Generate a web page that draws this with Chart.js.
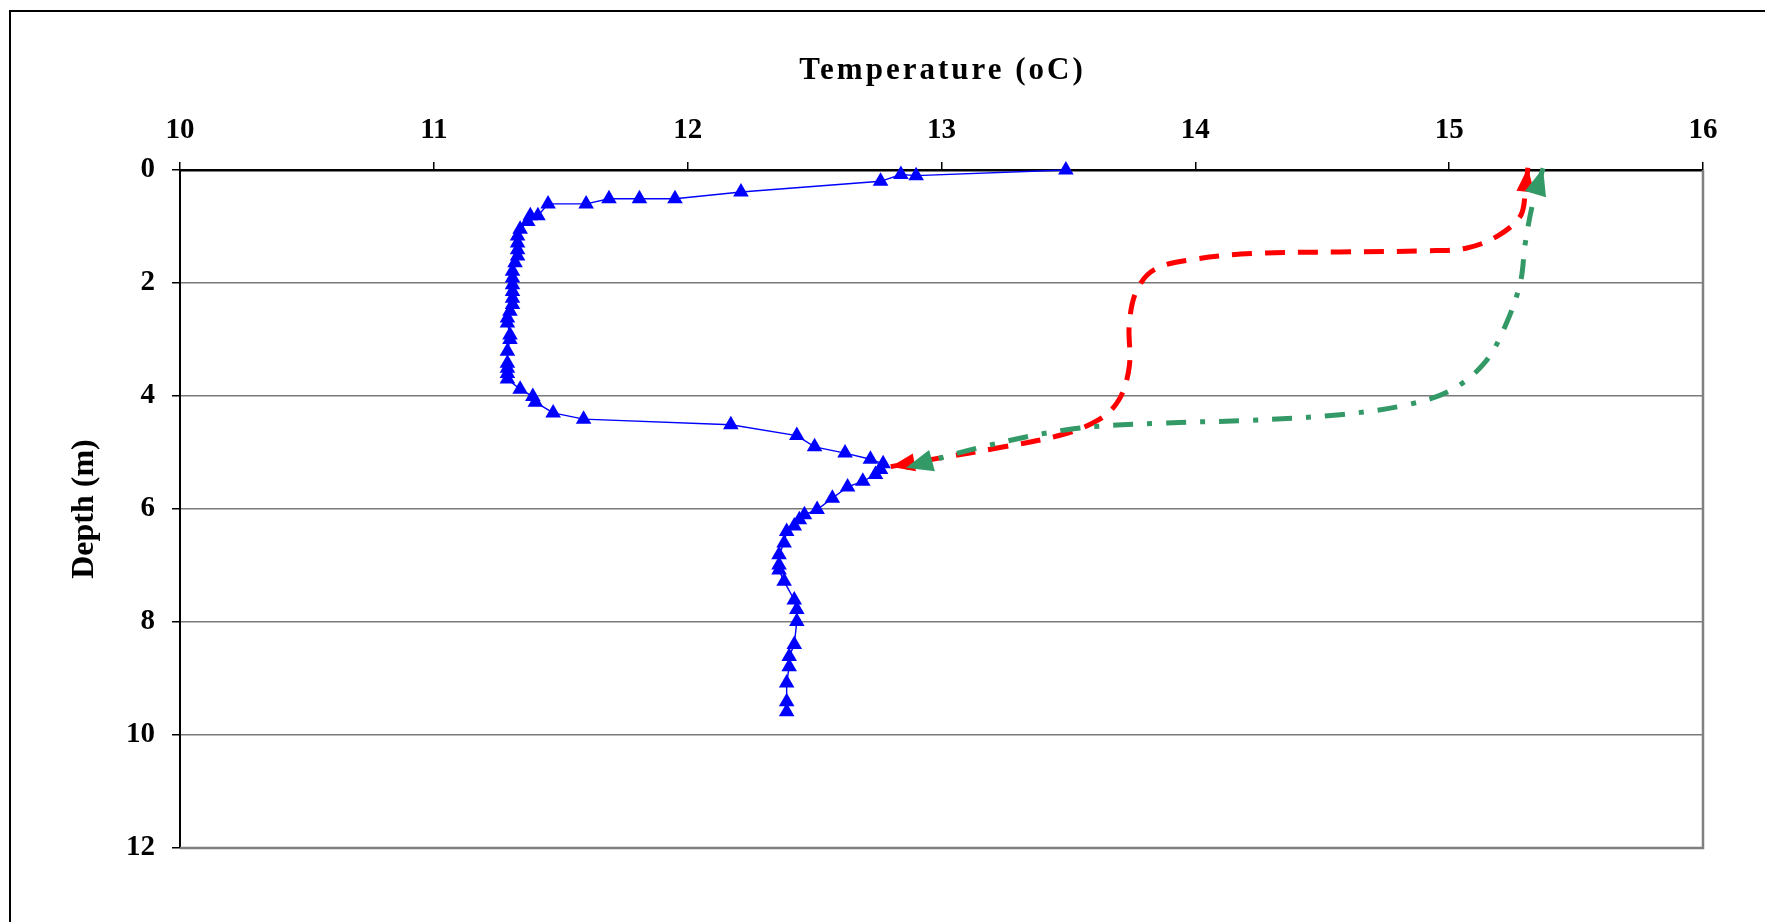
<!DOCTYPE html>
<html>
<head>
<meta charset="utf-8">
<script src="https://cdn.jsdelivr.net/npm/chart.js@4.4.1/dist/chart.umd.min.js"></script>
<style>
  html, body { margin: 0; padding: 0; background: #fff; overflow: hidden; }
  #wrap { position: relative; width: 1765px; height: 922px; }
  #frame {
    position: absolute; left: 9px; top: 10px; width: 1800px; height: 1000px;
    border-left: 2px solid #000; border-top: 2px solid #000; pointer-events: none;
  }
  canvas { position: absolute; left: 0; top: 0; }
</style>
</head>
<body>
<div id="wrap">
  <canvas id="chart" width="1765" height="922"></canvas>
  <div id="frame"></div>
</div>
<script>
// Perfil de temperatura medido
const temperature = [
  13.49, 12.90, 12.84, 12.76, 12.21, 11.95, 11.81, 11.69, 11.60, 11.45,
  11.41, 11.38, 11.37, 11.34, 11.33, 11.33, 11.33, 11.33, 11.32, 11.31,
  11.31, 11.31, 11.31, 11.31, 11.31, 11.30, 11.29, 11.29, 11.30, 11.30,
  11.29, 11.29, 11.29, 11.29, 11.29, 11.34, 11.39, 11.40, 11.47, 11.59,
  12.17, 12.43, 12.50, 12.62, 12.72, 12.77, 12.76, 12.74, 12.69, 12.63,
  12.57, 12.51, 12.46, 12.44, 12.42, 12.39, 12.38, 12.36, 12.36, 12.36,
  12.38, 12.42, 12.43, 12.43, 12.42, 12.40, 12.40, 12.39, 12.39, 12.39
];
const depth = [
  0.00, 0.10, 0.08, 0.20, 0.39, 0.51, 0.51, 0.51, 0.60, 0.60,
  0.81, 0.81, 0.91, 1.05, 1.17, 1.29, 1.41, 1.52, 1.64, 1.79,
  1.91, 2.03, 2.15, 2.27, 2.38, 2.50, 2.62, 2.71, 2.92, 3.00,
  3.21, 3.42, 3.51, 3.60, 3.70, 3.88, 4.01, 4.11, 4.30, 4.41,
  4.51, 4.70, 4.90, 5.01, 5.12, 5.20, 5.30, 5.39, 5.51, 5.61,
  5.81, 6.01, 6.10, 6.19, 6.30, 6.40, 6.60, 6.81, 6.99, 7.08,
  7.28, 7.61, 7.78, 7.99, 8.40, 8.61, 8.79, 9.08, 9.41, 9.59
];

// Flechas (trazos a mano en el original)
const redArrowTemp  = [12.80, 12.99, 13.22, 13.47, 13.62, 13.70, 13.74, 13.74, 13.77, 13.84, 13.98, 14.22, 14.57, 14.92, 15.07, 15.19, 15.28, 15.30, 15.31];
const redArrowDepth = [5.25, 5.10, 4.92, 4.69, 4.42, 4.06, 3.47, 2.71, 2.12, 1.76, 1.59, 1.48, 1.45, 1.43, 1.38, 1.17, 0.82, 0.40, -0.04];
const greenArrowTemp  = [12.86, 13.17, 13.52, 13.87, 14.22, 14.57, 14.84, 15.01, 15.14, 15.22, 15.28, 15.30, 15.33, 15.37];
const greenArrowDepth = [5.27, 4.89, 4.58, 4.48, 4.43, 4.33, 4.15, 3.89, 3.41, 2.77, 2.00, 1.29, 0.58, -0.03];

const xTicks = [10, 11, 12, 13, 14, 15, 16];
const yTicks = [0, 2, 4, 6, 8, 10, 12];
const xTitle = 'Temperature (oC)';
const yTitle = 'Depth (m)';

const FONT = "'Liberation Serif', 'Times New Roman', serif";

const toPoints = (xs, ys) => xs.map((x, i) => ({ x, y: ys[i] }));

// Puntas de flecha en ambos extremos
const arrowHeads = {
    id: 'arrowHeads',
    afterDatasetsDraw(chart) {
        const ctx = chart.ctx;
        [2, 1].forEach((i) => {
            const ds = chart.data.datasets[i];
            if (!ds || !ds.arrow) return;
            const pts = chart.getDatasetMeta(i).data;
            const ends = [[pts[0], pts[1]], [pts[pts.length - 1], pts[pts.length - 2]]];
            ctx.save();
            ctx.fillStyle = ds.borderColor;
            ends.forEach(([tip, prev]) => {
                const ang = Math.atan2(tip.y - prev.y, tip.x - prev.x);
                const { len, half } = ds.arrow;
                ctx.beginPath();
                ctx.moveTo(tip.x, tip.y);
                ctx.lineTo(tip.x - len * Math.cos(ang) + half * Math.sin(ang), tip.y - len * Math.sin(ang) - half * Math.cos(ang));
                ctx.lineTo(tip.x - len * Math.cos(ang) - half * Math.sin(ang), tip.y - len * Math.sin(ang) + half * Math.cos(ang));
                ctx.closePath();
                ctx.fill();
            });
            ctx.restore();
        });
    }
};

// Titulo superior con espaciado entre letras + marco derecho/inferior
const decorations = {
    id: 'decorations',
    beforeDatasetsDraw(chart) {
        const { ctx, chartArea: a } = chart;
        ctx.save();
        ctx.strokeStyle = '#808080';
        ctx.lineWidth = 2.5;
        ctx.beginPath();
        ctx.moveTo(a.right, a.top);
        ctx.lineTo(a.right, a.bottom);
        ctx.lineTo(a.left, a.bottom);
        ctx.stroke();
        ctx.restore();
    },
    afterDraw(chart) {
        const { ctx, chartArea: a } = chart;
        ctx.save();
        ctx.font = `bold 31px ${FONT}`;
        ctx.letterSpacing = '3px';
        ctx.fillStyle = '#000';
        ctx.textAlign = 'center';
        ctx.textBaseline = 'middle';
        ctx.fillText(xTitle, (a.left + a.right) / 2 + 1, 71);
        ctx.restore();
    }
};

new Chart(document.getElementById('chart'), {
    type: 'scatter',
    plugins: [arrowHeads, decorations],
    data: {
        datasets: [
            {
                label: 'Temperature',
                data: toPoints(temperature, depth),
                showLine: true,
                borderColor: '#0000FF',
                backgroundColor: '#0000FF',
                borderWidth: 1.4,
                pointStyle: 'triangle',
                pointRadius: 9,
                pointBorderWidth: 0,
                tension: 0,
                clip: false,
                order: 0
            },
            {
                label: 'green',
                data: toPoints(greenArrowTemp, greenArrowDepth),
                showLine: true,
                borderColor: '#339966',
                borderWidth: 5,
                borderDash: [20, 14, 5, 14],
                pointRadius: 0,
                tension: 0.35,
                clip: false,
                arrow: { len: 27, half: 11 },
                order: 1
            },
            {
                label: 'red',
                data: toPoints(redArrowTemp, redArrowDepth),
                showLine: true,
                borderColor: '#FF0000',
                borderWidth: 5,
                borderDash: [20, 13],
                pointRadius: 0,
                tension: 0.35,
                clip: false,
                arrow: { len: 24, half: 9 },
                order: 2
            }
        ]
    },
    options: {
        responsive: false,
        animation: false,
        events: [],
        layout: { padding: { left: 0, top: 0, right: 62, bottom: 74 } },
        plugins: {
            legend: { display: false },
            tooltip: { enabled: false }
        },
        scales: {
            x: {
                type: 'linear',
                position: 'top',
                min: 10,
                max: 16,
                afterBuildTicks: (s) => { s.ticks = xTicks.map(v => ({ value: v })); },
                afterFit: (s) => { s.height = 170; },
                grid: { drawOnChartArea: false, drawTicks: true, tickLength: 8, tickColor: '#000', lineWidth: 1.5 },
                border: { display: true, color: '#000', width: 2.5 },
                ticks: { color: '#000', padding: 14, font: { family: FONT, size: 29, weight: 'bold' } }
            },
            y: {
                type: 'linear',
                position: 'left',
                reverse: true,
                min: 0,
                max: 12,
                afterBuildTicks: (s) => { s.ticks = yTicks.map(v => ({ value: v })); },
                afterFit: (s) => { s.width = 180; },
                grid: {
                    color: (c) => (c.tick && (c.tick.value === 0 || c.tick.value === 12)) ? 'rgba(0,0,0,0)' : '#7a7a7a',
                    lineWidth: 1.5,
                    tickLength: 8,
                    tickColor: '#000'
                },
                border: { display: true, color: '#000', width: 2 },
                ticks: { color: '#000', padding: 17, font: { family: FONT, size: 29, weight: 'bold' } },
                title: {
                    display: true,
                    text: yTitle,
                    color: '#000',
                    padding: { top: 66, bottom: 0 },
                    font: { family: FONT, size: 32, weight: 'bold' }
                }
            }
        }
    }
});
</script>
</body>
</html>
